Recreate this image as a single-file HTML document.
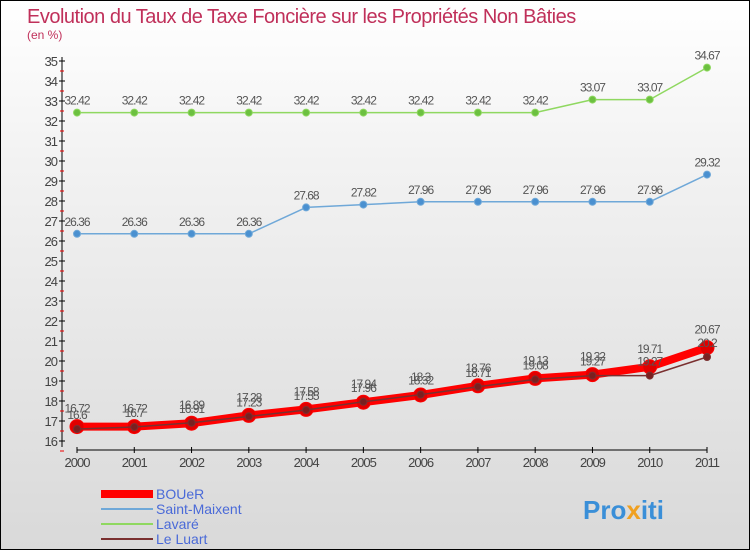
<!DOCTYPE html>
<html><head><meta charset="utf-8"><style>
body{margin:0}
#c{width:748px;height:548px;border:1px solid #000;position:relative;background:linear-gradient(#fff 0%,#f2f2f2 30%,#d9d9d9 100%);font-family:"Liberation Sans",sans-serif;overflow:hidden}
</style></head><body>
<div id="c">
<svg width="748" height="548" id="svg">
<text x="26" y="22" font-size="20" fill="#c0305a" letter-spacing="-0.5">Evolution du Taux de Taxe Foncière sur les Propriétés Non Bâties</text>
<text x="26" y="38" font-size="12" fill="#c0305a">(en %)</text>
<g id="axes"></g><g id="series"></g>
<g>
<rect x="100" y="489" width="52" height="8" fill="#f00"/>
<text x="155" y="498" font-size="14" fill="#4a6ad8">BOUeR</text>
<line x1="100" y1="508" x2="152" y2="508" stroke="#6fa8d8" stroke-width="2"/>
<text x="155" y="513" font-size="14" fill="#4a6ad8">Saint-Maixent</text>
<line x1="100" y1="523" x2="152" y2="523" stroke="#8fd860" stroke-width="2"/>
<text x="155" y="528" font-size="14" fill="#4a6ad8">Lavaré</text>
<line x1="100" y1="538" x2="152" y2="538" stroke="#7a3030" stroke-width="2"/>
<text x="155" y="543" font-size="14" fill="#4a6ad8">Le Luart</text>
</g>
<text x="582" y="518" font-size="26" font-weight="bold"><tspan fill="#3a8fd8">Pro</tspan><tspan fill="#f0a020">x</tspan><tspan fill="#3a8fd8">iti</tspan></text>
</svg>
</div>
<script>
const years=[2000,2001,2002,2003,2004,2005,2006,2007,2008,2009,2010,2011];
const yTicks=[16,17,18,19,20,21,22,23,24,25,26,27,28,29,30,31,32,33,34,35];
const bouer=[16.72,16.72,16.89,17.28,17.58,17.94,18.3,18.76,19.13,19.32,19.71,20.67];
const saintMaixent=[26.36,26.36,26.36,26.36,27.68,27.82,27.96,27.96,27.96,27.96,27.96,29.32];
const lavare=[32.42,32.42,32.42,32.42,32.42,32.42,32.42,32.42,32.42,33.07,33.07,34.67];
const leLuart=[16.6,16.7,16.91,17.23,17.55,17.96,18.32,18.71,19.08,19.27,19.27,20.2];
const NS="http://www.w3.org/2000/svg";
const xs=i=>76+i*(630/11), ys=v=>60+(35-v)*20;
function mk(t,a,p){const e=document.createElementNS(NS,t);for(const k in a)e.setAttribute(k,a[k]);p.appendChild(e);return e;}
const ax=document.getElementById('axes');
let yl=mk('line',{x1:61,y1:56,x2:61,y2:446,stroke:'#000'},ax);


yTicks.forEach(v=>{const y=ys(v);mk('line',{x1:58,y1:y,x2:64,y2:y,stroke:'#000'},ax);
mk('line',{x1:59,y1:y+10,x2:63,y2:y+10,stroke:'#e00'},ax);
const t=mk('text',{x:56,y:y+5,'font-size':13,fill:'#444','text-anchor':'end','letter-spacing':'-1'},ax);t.textContent=v;

});
let xl=mk('line',{x1:76,y1:449,x2:706,y2:449,stroke:'#000'},ax);


years.forEach((yr,i)=>{mk('line',{x1:xs(i),y1:446,x2:xs(i),y2:452,stroke:'#000'},ax);
const t=mk('text',{x:xs(i),y:466,'font-size':13,fill:'#444','text-anchor':'middle','letter-spacing':'-1'},ax);t.textContent=yr;

});
const sg=document.getElementById('series');
function series(name,vals,color,w,r,fill,labelDy){
const g=mk('g',{},sg);


const pts=vals.map((v,i)=>xs(i)+','+ys(v)).join(' ');
mk('polyline',{points:pts,fill:'none',stroke:color,'stroke-width':w,'stroke-linejoin':'round'},g);
vals.forEach((v,i)=>{const c=mk('circle',{cx:xs(i),cy:ys(v),r:r,fill:fill,stroke:color,'stroke-width':1},g);


const t=mk('text',{x:xs(i),y:ys(v)+labelDy,'font-size':12,fill:'#555','text-anchor':'middle','letter-spacing':'-1'},g);t.textContent=v;

});}
series('lavare',lavare,'#8fd860',1.5,3.5,'#6cc040',-8);
series('saint-maixent',saintMaixent,'#6fa8d8',1.5,3.5,'#4a90d0',-8);
series('bouer',bouer,'#f00',8,7,'#e00000',-14);
series('le-luart',leLuart,'#7a3030',1.5,3.5,'#7a2020',-10);
</script>
</body></html>
